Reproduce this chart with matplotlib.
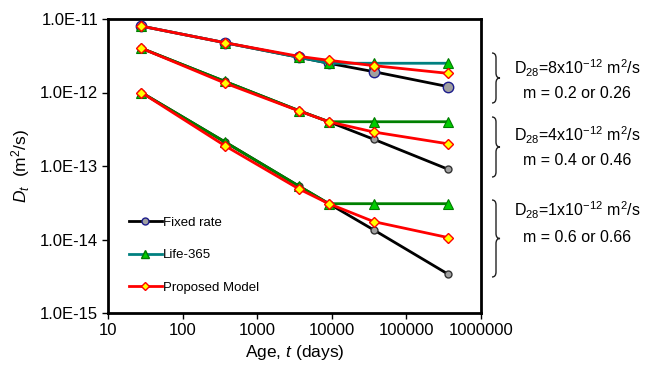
import numpy as np
import matplotlib
matplotlib.use("Agg")
import matplotlib.pyplot as plt
from matplotlib.lines import Line2D
from matplotlib.path import Path
from matplotlib.patches import PathPatch

plt.rcParams['font.family'] = ['Liberation Sans', 'DejaVu Sans']
plt.rcParams['mathtext.fontset'] = 'custom'
plt.rcParams['mathtext.rm'] = 'Liberation Sans'
plt.rcParams['mathtext.it'] = 'Liberation Sans:italic'

# ages (days): 28 d, 1 yr, 10 yr, 25 yr, 100 yr, 1000 yr
age = [28, 365, 3650, 9125, 36500, 365000]

# D28 = 8e-12
fixed_8 = [8.0e-12, 4.77e-12, 3.01e-12, 2.5e-12, 1.92e-12, 1.2e-12]
life_8 = [8.0e-12, 4.77e-12, 3.01e-12, 2.5e-12, 2.5e-12, 2.5e-12]
prop_8 = [8.0e-12, 4.77e-12, 3.1e-12, 2.74e-12, 2.32e-12, 1.82e-12]

# D28 = 4e-12
fixed_4 = [4.0e-12, 1.42e-12, 5.65e-13, 4.0e-13, 2.31e-13, 9.0e-14]
life_4 = [4.0e-12, 1.42e-12, 5.65e-13, 4.0e-13, 4.0e-13, 4.0e-13]
prop_4 = [4.0e-12, 1.35e-12, 5.6e-13, 4.0e-13, 2.9e-13, 2.0e-13]

# D28 = 1e-12
fixed_1 = [1.0e-12, 2.14e-13, 5.3e-14, 3.07e-14, 1.35e-14, 3.36e-15]
life_1 = [1.0e-12, 2.14e-13, 5.3e-14, 3.07e-14, 3.07e-14, 3.07e-14]
prop_1 = [1.0e-12, 1.9e-13, 4.86e-14, 3.07e-14, 1.75e-14, 1.06e-14]

yticks = [1e-15, 1e-14, 1e-13, 1e-12, 1e-11]
ytick_labels = ['1.0E-15', '1.0E-14', '1.0E-13', '1.0E-12', '1.0E-11']
xticks = [10, 100, 1000, 10000, 100000, 1000000]
xtick_labels = ['10', '100', '1000', '10000', '100000', '1000000']

notes = [(r'D$_{28}$=8x10$^{-12}$ m$^2$/s', 'm = 0.2 or 0.26'),
         (r'D$_{28}$=4x10$^{-12}$ m$^2$/s', 'm = 0.4 or 0.46'),
         (r'D$_{28}$=1x10$^{-12}$ m$^2$/s', 'm = 0.6 or 0.66')]

W, H = 649, 372
fig = plt.figure(figsize=(W / 100, H / 100), dpi=100)
ax = fig.add_axes([108 / W, 1 - 313 / H, 373 / W, 294 / H])

green_face = '#00cc00'
green_edge = '#007a00'

sets = [(fixed_8, life_8, prop_8, '#008080', 7.5, '#1c1c8c'),
        (fixed_4, life_4, prop_4, '#008000', 5, '#333333'),
        (fixed_1, life_1, prop_1, '#008000', 5, '#333333')]

for fx, lf, pr, lcol, msz, medge in sets:
    ax.plot(age, fx, '-o', color='black', lw=2, ms=msz, mfc='#a0a0a0',
            mec=medge, mew=1, zorder=3)
    ax.plot(age, lf, '-^', color=lcol, lw=2, ms=6.5, mfc=green_face,
            mec=green_edge, mew=0.8, zorder=4)
    ax.plot(age, pr, '-D', color='red', lw=2, ms=5.5, mfc='yellow',
            mec='red', mew=1, zorder=5)

ax.set_xscale('log')
ax.set_yscale('log')
ax.set_xlim(10, 1e6)
ax.set_ylim(1e-15, 1e-11)
ax.set_xticks(xticks)
ax.set_xticklabels(xtick_labels)
ax.set_yticks(yticks)
ax.set_yticklabels(ytick_labels)
ax.minorticks_off()
ax.tick_params(direction='out', length=4, width=1, labelsize=12, pad=3)
for s in ax.spines.values():
    s.set_linewidth(2)

ax.set_xlabel(r'Age, $\it{t}$ (days)', fontsize=12.5, labelpad=4)
ax.set_ylabel(r'$\it{D_t}$  (m$^2$/s)', fontsize=12.5, labelpad=6)

handles = [
    Line2D([], [], color='black', lw=2, marker='o', ms=5, mfc='#a0a0a0', mec='#1c1c8c'),
    Line2D([], [], color='#008080', lw=2, marker='^', ms=6, mfc=green_face, mec=green_edge),
    Line2D([], [], color='red', lw=2, marker='D', ms=4.5, mfc='yellow', mec='red'),
]
ax.legend(handles, ['Fixed rate', 'Life-365', 'Proposed Model'], loc='center left',
          bbox_to_anchor=(0.055, 0.197), frameon=False, fontsize=9.5,
          handlelength=2.5, handletextpad=0.1, labelspacing=1.55,
          borderpad=0, borderaxespad=0)


def brace(x0, ytop, ybot, w):
    # curly brace in pixel coords (origin top-left), tip pointing right
    ym = (ytop + ybot) / 2
    r = 5
    xm = x0 + w / 2
    pts = [(x0, ytop), (xm, ytop), (xm, ytop + r),
           (xm, ym - r), (xm, ym), (x0 + w, ym),
           (xm, ym), (xm, ym + r),
           (xm, ybot - r), (xm, ybot), (x0, ybot)]
    codes = [Path.MOVETO, Path.CURVE3, Path.CURVE3,
             Path.LINETO, Path.CURVE3, Path.CURVE3,
             Path.CURVE3, Path.CURVE3,
             Path.LINETO, Path.CURVE3, Path.CURVE3]
    verts = [(x / W, 1 - y / H) for x, y in pts]
    fig.add_artist(PathPatch(Path(verts, codes), fill=False, lw=1,
                             edgecolor='#222222', transform=fig.transFigure))


braces = [(53, 103), (117, 177), (200, 277)]
text_y = [(68, 93), (135, 160), (210, 238)]
for (yt, yb), (y1, y2), (t1, t2) in zip(braces, text_y, notes):
    brace(492, yt, yb, 8)
    fig.text(577 / W, 1 - y1 / H, t1, ha='center', va='center', fontsize=11.5)
    fig.text(577 / W, 1 - y2 / H, t2, ha='center', va='center', fontsize=11.5)

fig.savefig('out.png', dpi=100)
